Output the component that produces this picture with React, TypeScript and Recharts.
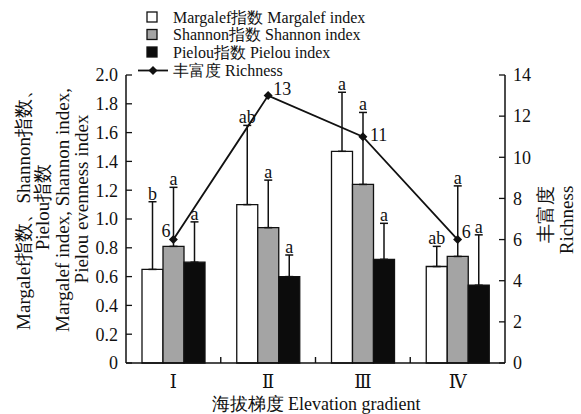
import React from 'react';
import { ComposedChart, Bar, Line, XAxis, YAxis, ErrorBar, LabelList } from 'recharts';

// Elevation gradients
const gradients = ['Ⅰ', 'Ⅱ', 'Ⅲ', 'Ⅳ'];

// Diversity indices (mean) and standard deviations
const margalef = [0.65, 1.1, 1.47, 0.67];
const margalefSd = [0.47, 0.55, 0.41, 0.14];
const shannon = [0.81, 0.94, 1.24, 0.74];
const shannonSd = [0.41, 0.33, 0.5, 0.49];
const pielou = [0.7, 0.6, 0.72, 0.54];
const pielouSd = [0.28, 0.15, 0.25, 0.35];

// Significance letters
const margalefSig = ['b', 'ab', 'a', 'ab'];
const shannonSig = ['a', 'a', 'a', 'a'];
const pielouSig = ['a', 'a', 'a', 'a'];

// Species richness
const richness = [6, 13, 11, 6];

// Axis ticks
const leftTicks = [0, 0.2, 0.4, 0.6, 0.8, 1.0, 1.2, 1.4, 1.6, 1.8, 2.0];
const rightTicks = [0, 2, 4, 6, 8, 10, 12, 14];

const data = gradients.map((g, i) => ({
  gradient: g,
  margalef: margalef[i],
  margalefErr: [0, margalefSd[i]],
  shannon: shannon[i],
  shannonErr: [0, shannonSd[i]],
  pielou: pielou[i],
  pielouErr: [0, pielouSd[i]],
  richness: richness[i],
}));

// Layout
const W = 581;
const H = 414;
const MARGIN_TOP = 75;
const LEFT_AXIS_W = 126;
const RIGHT_AXIS_W = 76;
const X_AXIS_H = 51;
const PLOT_LEFT = LEFT_AXIS_W;
const PLOT_RIGHT = W - RIGHT_AXIS_W;
const PLOT_BOTTOM = H - X_AXIS_H;
const BAND = (PLOT_RIGHT - PLOT_LEFT) / gradients.length;

const SERIF = "'Liberation Serif', Tinos, 'DejaVu Serif', serif";
const GREY = '#a4a4a4';
const DARK = '#0c0c0c';

// Offsets for the richness value labels [dx, dy, anchor]
const richLabelPos: [number, number, 'start' | 'end'][] = [
  [-3, -3, 'end'],
  [5, -1, 'start'],
  [7, 4, 'start'],
  [4, -2, 'start'],
];

const sigLabel = (sig: string[], sd: number[]) => (props: any) => {
  const { x, y, width, height, value, index } = props;
  const perUnit = Number(height) / Number(value);
  const top = Number(y) - sd[index] * perUnit;
  return (
    <text
      x={Number(x) + Number(width) / 2}
      y={top - 2}
      textAnchor="middle"
      style={{ fontFamily: SERIF, fontSize: 18 }}
      fill="#111"
    >
      {sig[index]}
    </text>
  );
};

const richLabel = (props: any) => {
  const { x, y, value, index } = props;
  const [dx, dy, anchor] = richLabelPos[index];
  return (
    <text
      x={Number(x) + dx}
      y={Number(y) + dy}
      textAnchor={anchor}
      style={{ fontFamily: SERIF, fontSize: 18 }}
      fill="#111"
    >
      {value}
    </text>
  );
};

const Diamond = (props: any) => {
  const { cx, cy } = props;
  const s = 4.5;
  return (
    <path d={`M${cx},${cy - s}L${cx + s},${cy}L${cx},${cy + s}L${cx - s},${cy}Z`} fill="#111" stroke="none" />
  );
};

const LeftTick = (props: any) => {
  const { x, y, payload } = props;
  const v = Number(payload.value);
  const label = v === 0 ? '0' : v.toFixed(1);
  return (
    <g>
      <line x1={x + 8} x2={x + 14} y1={y} y2={y} stroke="#111" strokeWidth={1.3} />
      <text x={x} y={y} dy="0.35em" textAnchor="end" style={{ fontFamily: SERIF, fontSize: 18 }} fill="#111">
        {label}
      </text>
    </g>
  );
};

const RightTick = (props: any) => {
  const { x, y, payload } = props;
  return (
    <g>
      <line x1={x - 8} x2={x - 14} y1={y} y2={y} stroke="#111" strokeWidth={1.3} />
      <text x={x} y={y} dy="0.35em" textAnchor="start" style={{ fontFamily: SERIF, fontSize: 18 }} fill="#111">
        {payload.value}
      </text>
    </g>
  );
};

const CategoryTick = (props: any) => {
  const { x, y, payload } = props;
  return (
    <text x={x} y={y} dy="0.71em" textAnchor="middle" style={{ fontFamily: SERIF, fontSize: 18 }} fill="#111">
      {payload.value}
    </text>
  );
};

const legendRows = [
  { label: 'Margalef指数 Margalef index', fill: '#fff', y: 17 },
  { label: 'Shannon指数 Shannon index', fill: GREY, y: 34.5 },
  { label: 'Pielou指数 Pielou index', fill: DARK, y: 52 },
];

export default function App() {
  return (
    <div style={{ position: 'relative', width: W, height: H, background: '#fff' }}>
      <style>{`body{margin:0;}`}</style>
      <ComposedChart
        width={W}
        height={H}
        data={data}
        margin={{ top: MARGIN_TOP, right: 0, bottom: 0, left: 0 }}
        barGap={0}
        barSize={21}
      >
        <XAxis
          dataKey="gradient"
          height={X_AXIS_H}
          tickSize={0}
          tickMargin={12}
          axisLine={{ stroke: '#111', strokeWidth: 1.5 }}
          tickLine={false}
          tick={<CategoryTick />}
          interval={0}
        />
        <YAxis
          yAxisId="left"
          width={LEFT_AXIS_W}
          domain={[0, 2]}
          ticks={leftTicks}
          tickSize={0}
          tickMargin={8}
          axisLine={{ stroke: '#111', strokeWidth: 1.5 }}
          tickLine={false}
          tick={<LeftTick />}
          interval={0}
        />
        <YAxis
          yAxisId="right"
          orientation="right"
          width={RIGHT_AXIS_W}
          domain={[0, 14]}
          ticks={rightTicks}
          tickSize={0}
          tickMargin={8}
          axisLine={{ stroke: '#111', strokeWidth: 1.5 }}
          tickLine={false}
          tick={<RightTick />}
          interval={0}
        />
        <Bar yAxisId="left" dataKey="margalef" fill="#fff" stroke="#111" strokeWidth={1.3} isAnimationActive={false}>
          <ErrorBar dataKey="margalefErr" width={4} stroke="#111" strokeWidth={1.5} direction="y" />
          <LabelList dataKey="margalef" content={sigLabel(margalefSig, margalefSd)} />
        </Bar>
        <Bar yAxisId="left" dataKey="shannon" fill={GREY} stroke="#111" strokeWidth={1.3} isAnimationActive={false}>
          <ErrorBar dataKey="shannonErr" width={4} stroke="#111" strokeWidth={1.5} direction="y" />
          <LabelList dataKey="shannon" content={sigLabel(shannonSig, shannonSd)} />
        </Bar>
        <Bar yAxisId="left" dataKey="pielou" fill={DARK} stroke="#111" strokeWidth={1.3} isAnimationActive={false}>
          <ErrorBar dataKey="pielouErr" width={4} stroke="#111" strokeWidth={1.5} direction="y" />
          <LabelList dataKey="pielou" content={sigLabel(pielouSig, pielouSd)} />
        </Bar>
        <Line
          yAxisId="right"
          dataKey="richness"
          stroke="#111"
          strokeWidth={1.8}
          dot={<Diamond />}
          activeDot={false}
          isAnimationActive={false}
        >
          <LabelList dataKey="richness" content={richLabel} />
        </Line>
      </ComposedChart>

      <svg
        width={W}
        height={H}
        style={{ position: 'absolute', left: 0, top: 0, pointerEvents: 'none', fontFamily: SERIF }}
        fill="#111"
      >
        {/* inward ticks at the boundaries between gradient bands */}
        {gradients.slice(1).map((g, i) => {
          const bx = PLOT_LEFT + BAND * (i + 1);
          return <line key={g} x1={bx} x2={bx} y1={PLOT_BOTTOM} y2={PLOT_BOTTOM - 6} stroke="#111" strokeWidth={1.4} />;
        })}

        {/* legend */}
        {legendRows.map((r) => (
          <g key={r.label}>
            <rect x={147} y={r.y - 5} width={10} height={10} fill={r.fill} stroke="#111" strokeWidth={1.3} />
            <text x={173} y={r.y} dy="0.35em" style={{ fontSize: 16 }}>
              {r.label}
            </text>
          </g>
        ))}
        <line x1={138} x2={168} y1={70.5} y2={70.5} stroke="#111" strokeWidth={1.8} />
        <path d="M153,66L157.5,70.5L153,75L148.5,70.5Z" fill="#111" />
        <text x={173} y={70.5} dy="0.35em" style={{ fontSize: 16 }}>
          丰富度 Richness
        </text>

        {/* left axis title, baselines on the right of each rotated line */}
        <g style={{ fontSize: 19 }} textAnchor="middle">
          <text transform="translate(30,205) rotate(-90)">Margalef指数、Shannon指数、</text>
          <text transform="translate(49,207) rotate(-90)">Pielou指数</text>
          <text transform="translate(69,210) rotate(-90)">Margalef index, Shannon index,</text>
          <text transform="translate(88,199) rotate(-90)">Pielou evenness index</text>
        </g>

        {/* right axis title */}
        <g style={{ fontSize: 19 }} textAnchor="middle">
          <text transform="translate(552,214) rotate(-90)">丰富度</text>
          <text transform="translate(573,220) rotate(-90)">Richness</text>
        </g>

        {/* x axis title */}
        <text x={316} y={410} style={{ fontSize: 18 }} textAnchor="middle">
          海拔梯度 Elevation gradient
        </text>
      </svg>
    </div>
  );
}
